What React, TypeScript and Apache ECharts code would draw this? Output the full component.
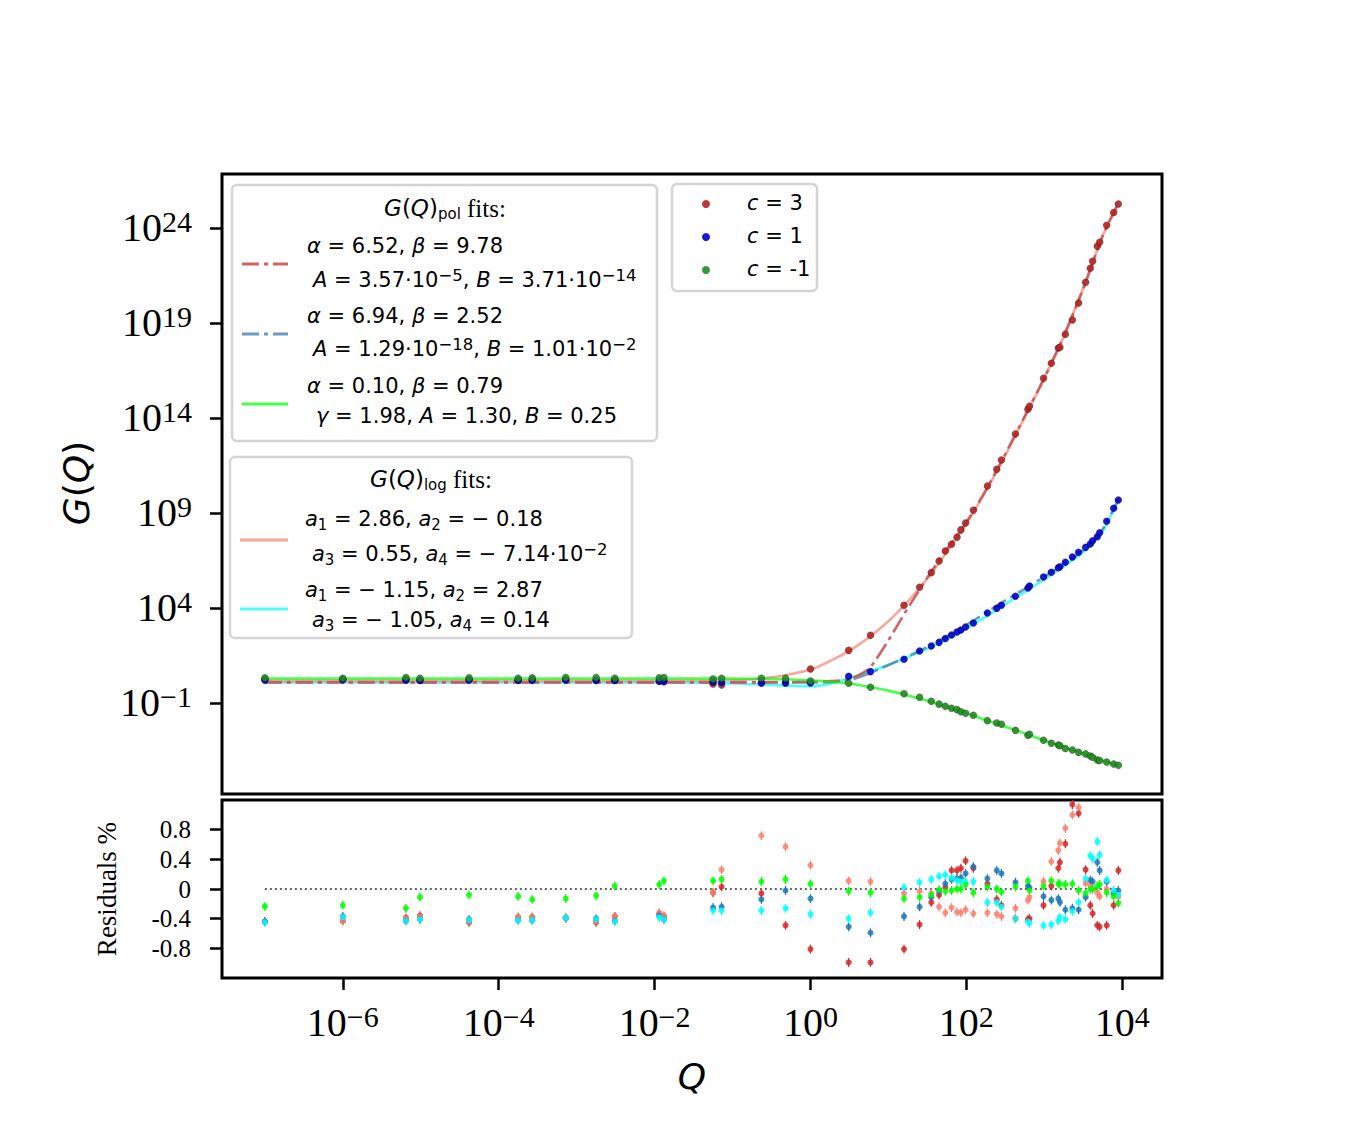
import React, { useEffect, useRef } from 'react';
import * as echarts from 'echarts';

// ---------- data (log10 of Q and of G(Q)) ----------
const LOG_Q = [
  -7.0, -6.0, -5.19, -5.01, -4.38, -3.75, -3.57, -3.14, -2.75, -2.51, -1.94, -1.88,
  -1.25, -1.14, -0.63, -0.32, 0.0, 0.49, 0.77, 1.2, 1.4, 1.55, 1.65, 1.73, 1.81, 1.88,
  1.93, 1.99, 2.09, 2.27, 2.39, 2.45, 2.63, 2.79, 2.81, 2.99, 3.09, 3.18, 3.2, 3.27,
  3.36, 3.44, 3.53, 3.59, 3.62, 3.68, 3.71, 3.8, 3.89, 3.95,
];
const LOG_G_C3 = [
  0.25, 0.24, 0.22, 0.2, 0.24, 0.2, 0.22, 0.24, 0.2, 0.2, 0.14, 0.12,
  0.0, -0.05, 0.08, 0.1, 0.79, 1.77, 2.56, 4.14, 5.09, 5.86, 6.47, 7.0, 7.35, 7.72,
  8.11, 8.47, 9.14, 10.42, 11.3, 11.79, 13.16, 14.46, 14.62, 16.09, 16.88, 17.68, 17.72, 18.41,
  19.16, 20.05, 21.14, 21.88, 22.25, 23.04, 23.25, 24.14, 24.81, 25.26,
];
const LOG_G_C1 = [
  0.2, 0.22, 0.2, 0.18, 0.2, 0.2, 0.18, 0.2, 0.18, 0.18, 0.14, 0.14,
  0.1, 0.08, 0.04, 0.04, 0.05, 0.4, 0.65, 1.3, 1.74, 2.0, 2.19, 2.39, 2.58, 2.74,
  2.84, 3.0, 3.21, 3.74, 3.98, 4.14, 4.62, 5.05, 5.16, 5.63, 5.88, 6.12, 6.17, 6.41,
  6.68, 6.93, 7.19, 7.37, 7.54, 7.75, 7.96, 8.56, 9.25, 9.68,
];
const LOG_G_CM1 = [
  0.32, 0.3, 0.34, 0.3, 0.32, 0.3, 0.32, 0.34, 0.34, 0.3, 0.32, 0.34,
  0.26, 0.3, 0.3, 0.3, 0.16, 0.04, -0.17, -0.51, -0.7, -0.91, -1.06, -1.17, -1.28, -1.35,
  -1.46, -1.54, -1.65, -1.93, -2.05, -2.12, -2.44, -2.7, -2.65, -2.96, -3.12, -3.21, -3.25, -3.4,
  -3.47, -3.6, -3.68, -3.79, -3.86, -4.0, -4.03, -4.11, -4.21, -4.28,
];

// fitted curves, sampled (log10 Q -> log10 G)
const FIT_LOG_Q = [-7, -2, -1, -0.5, 0, 0.25, 0.5, 0.75, 1, 1.25, 1.5, 1.75, 2, 2.25, 2.5, 2.75, 3, 3.25, 3.5, 3.75, 3.95];
const FIT_POL_C3 = [0.1, 0.1, 0.1, 0.1, 0.12, 0.15, 0.25, 0.8, 2.3, 4.0, 5.6, 7.1, 8.5, 10.2, 12.1, 14.1, 16.1, 18.3, 20.8, 23.6, 25.3];
const FIT_LOG_C3 = [0.15, 0.15, 0.2, 0.35, 0.75, 1.2, 1.75, 2.45, 3.3, 4.35, 5.55, 6.95, 8.45, 10.15, 12.05, 14.05, 16.1, 18.3, 20.85, 23.6, 25.3];
const FIT_POL_C1 = [0.08, 0.08, 0.08, 0.08, 0.08, 0.1, 0.2, 0.55, 1.0, 1.45, 1.95, 2.5, 3.1, 3.75, 4.4, 5.0, 5.65, 6.3, 7.05, 8.15, 9.7];
const FIT_LOG_C1 = [0.08, 0.08, 0.04, -0.05, -0.12, 0.02, 0.3, 0.65, 1.0, 1.42, 1.85, 2.35, 2.92, 3.55, 4.2, 4.85, 5.5, 6.2, 6.95, 8.05, 9.7];
const FIT_POL_CM1 = [0.28, 0.28, 0.28, 0.27, 0.2, 0.12, 0.03, -0.15, -0.35, -0.6, -0.88, -1.2, -1.54, -1.9, -2.25, -2.6, -2.97, -3.32, -3.66, -4.02, -4.3];

// residuals in %
const RES_POL_C3 = [
  -0.44, -0.43, -0.39, -0.36, -0.45, -0.38, -0.38, -0.39, -0.45, -0.37, -0.33, -0.37,
  -0.05, 0.03, -0.06, -0.49, -0.81, -0.99, -0.99, -0.81, -0.48, -0.18, -0.08, 0.02, 0.25, 0.25,
  0.28, 0.38, 0.28, 0.07, -0.14, -0.22, -0.4, -0.41, -0.4, -0.22, 0.04, 0.28, 0.36, 0.61,
  1.14, 1.02, 0.26, -0.22, -0.33, -0.49, -0.51, -0.49, -0.22, 0.25,
];
const RES_LOG_C3 = [
  -0.44, -0.43, -0.4, -0.37, -0.44, -0.38, -0.38, -0.39, -0.44, -0.37, -0.32, -0.36,
  -0.05, 0.26, 0.72, 0.57, 0.32, 0.11, 0.1, -0.06, -0.03, -0.06, -0.24, -0.32, -0.25, -0.31,
  -0.32, -0.28, -0.33, -0.32, -0.34, -0.37, -0.26, -0.15, -0.11, 0.1, 0.37, 0.52, 0.62, 0.82,
  1.0, 1.1, 0.08, 0.05, 0.0, -0.05, -0.1, 0.0, -0.05, -0.1,
];
const RES_POL_C1 = [
  -0.44, -0.37, -0.43, -0.41, -0.41, -0.42, -0.42, -0.39, -0.4, -0.43, -0.36, -0.41,
  -0.25, -0.24, -0.14, -0.02, -0.13, -0.51, -0.59, -0.37, -0.24, -0.11, -0.03, 0.07, 0.13, 0.14,
  0.15, 0.21, 0.3, 0.14, 0.25, 0.21, 0.09, 0.04, 0.02, -0.1, -0.15, -0.13, -0.18, -0.28,
  -0.26, -0.28, -0.11, 0.12, 0.1, 0.36, 0.25, 0.1, -0.06, -0.02,
];
const RES_LOG_C1 = [
  -0.45, -0.38, -0.43, -0.41, -0.42, -0.42, -0.42, -0.39, -0.41, -0.44, -0.38, -0.41,
  -0.29, -0.29, -0.29, -0.26, -0.34, -0.4, -0.32, 0.02, 0.09, 0.13, 0.17, 0.19, 0.15, 0.12,
  0.1, 0.1, 0.1, -0.18, -0.18, -0.24, -0.4, -0.44, -0.46, -0.49, -0.48, -0.43, -0.38, -0.41,
  -0.3, -0.18, 0.14, 0.45, 0.41, 0.64, 0.46, 0.12, -0.02, -0.08,
];
const RES_POL_CM1 = [
  -0.235, -0.22, -0.26, -0.11, -0.08, -0.1, -0.14, -0.13, -0.09, 0.04, 0.06, 0.11,
  0.11, 0.13, 0.1, 0.13, 0.07, -0.03, -0.05, -0.13, -0.11, -0.08, -0.01, -0.03, -0.02, 0.0,
  0.0, 0.06, -0.05, 0.03, 0.0, -0.04, 0.03, 0.11, -0.02, 0.04, 0.11, 0.07, 0.07, 0.06,
  0.07, -0.02, -0.06, 0.0, 0.0, 0.04, 0.06, -0.05, -0.1, -0.19,
];

// ticks
const X_TICKS = [-6, -4, -2, 0, 2, 4];
const Y_TICKS = [-1, 4, 9, 14, 19, 24];
const RES_TICKS = [-0.8, -0.4, 0, 0.4, 0.8];
// split over two overlaid axes so that no label is auto-hidden
const RES_TICKS_A = RES_TICKS.filter((_, i) => i % 2 === 0);
const RES_TICKS_B = RES_TICKS.filter((_, i) => i % 2 === 1);

// ---------- styling helpers ----------
const SANS = 'DejaVu Sans';
const SERIF = 'Liberation Serif';
const C_PTS3 = '#b22222';
const C_PTS1 = '#0000cd';
const C_PTSM1 = '#228b22';
const C_POL3 = 'rgba(205,92,92,0.95)';
const C_POL1 = 'rgba(70,130,180,0.8)';
const C_LIME = 'rgba(0,255,0,0.7)';
const C_SALMON = 'rgba(250,128,114,0.7)';
const C_CYAN = 'rgba(0,255,255,0.7)';
const DASHDOT = [17, 5, 4, 5];

const zip = (xs: number[], ys: number[]) => xs.map((x, i) => [x, ys[i]]);
const expText = (n: number) => (n < 0 ? '\u2212' + Math.abs(n) : String(n));

const LF = 21;
const legRich: any = {
  i: { fontFamily: SANS, fontStyle: 'italic', fontSize: LF, lineHeight: 26, fill: '#000' },
  n: { fontFamily: SANS, fontSize: LF, lineHeight: 26, fill: '#000' },
  sup: { fontFamily: SANS, fontSize: 16.5, lineHeight: 16, verticalAlign: 'top', fill: '#000' },
  sub: { fontFamily: SANS, fontSize: 15, lineHeight: 16, verticalAlign: 'bottom', fill: '#000' },
  ti: { fontFamily: SANS, fontStyle: 'italic', fontSize: 23, lineHeight: 26, fill: '#000' },
  tn: { fontFamily: SANS, fontSize: 23, lineHeight: 26, fill: '#000' },
  sr: { fontFamily: SERIF, fontSize: 25, lineHeight: 26, fill: '#000' },
};

function legText(x: number, y: number, text: string, align: string = 'left') {
  return {
    type: 'text',
    x,
    y,
    z: 110,
    silent: true,
    style: {
      text,
      rich: legRich,
      fontFamily: SANS,
      fontSize: LF,
      lineHeight: 26,
      fill: '#000',
      align,
      verticalAlign: 'middle',
    },
  };
}

function handle(x1: number, x2: number, y: number, color: string, dash: any) {
  return {
    type: 'line',
    z: 110,
    silent: true,
    shape: { x1, y1: y, x2, y2: y },
    style: { stroke: color, lineWidth: 3, lineDash: dash },
  };
}

function box(x: number, y: number, w: number, h: number) {
  return {
    type: 'rect',
    z: 105,
    silent: true,
    shape: { x, y, width: w, height: h, r: 5 },
    style: { fill: 'rgba(255,255,255,0.85)', stroke: '#d4d4d4', lineWidth: 2.5 },
  };
}

function dot(x: number, y: number, color: string) {
  return {
    type: 'circle',
    z: 110,
    silent: true,
    shape: { cx: x, cy: y, r: 4 },
    style: { fill: color, opacity: 0.9 },
  };
}

function errBars(data: number[][], color: string, half: number) {
  return {
    type: 'custom',
    xAxisIndex: 1,
    yAxisIndex: 1,
    silent: true,
    z: 3,
    data,
    renderItem: (_p: any, api: any) => {
      const x = api.value(0);
      const y = api.value(1);
      const a = api.coord([x, y - half]);
      const b = api.coord([x, y + half]);
      return {
        type: 'line',
        shape: { x1: a[0], y1: a[1], x2: b[0], y2: b[1] },
        style: { stroke: color, lineWidth: 1.2 },
      };
    },
  };
}

function resScatter(data: number[][], color: string, z: number) {
  return {
    type: 'scatter',
    xAxisIndex: 1,
    yAxisIndex: 1,
    data,
    symbolSize: 6,
    z,
    itemStyle: { color, opacity: 0.85 },
  };
}

function ptScatter(data: number[][], color: string) {
  return {
    type: 'scatter',
    xAxisIndex: 0,
    yAxisIndex: 0,
    data,
    symbolSize: 7,
    z: 5,
    itemStyle: { color, opacity: 0.9, borderColor: 'rgba(0,0,0,0.35)', borderWidth: 0.8 },
  };
}

function fitLine(ys: number[], color: string, type: any, z: number) {
  return {
    type: 'line',
    xAxisIndex: 0,
    yAxisIndex: 0,
    data: zip(FIT_LOG_Q, ys),
    showSymbol: false,
    symbol: 'none',
    smooth: 0.2,
    z,
    lineStyle: { color, width: 2.6, type },
  };
}

const tickStyle = { show: true, length: 12, lineStyle: { color: '#000', width: 2.5 } };

function resAxis(values: number[]) {
  return {
    type: 'value', gridIndex: 1, min: -1.2, max: 1.2, position: 'left', offset: 0,
    axisLine: { show: false, onZero: false },
    axisTick: { ...tickStyle, customValues: values },
    axisLabel: {
      customValues: values,
      margin: 31,
      hideOverlap: false,
      showMinLabel: true,
      showMaxLabel: true,
      fontFamily: SERIF,
      fontSize: 25,
      lineHeight: 24,
      color: '#000',
      formatter: (v: number) => (Math.abs(v) < 1e-9 ? '0' : v.toFixed(1)),
    },
    splitLine: { show: false },
  };
}

export default function App() {
  const ref = useRef<HTMLDivElement>(null);

  useEffect(() => {
    if (!ref.current) return;
    const chart = echarts.init(ref.current, undefined, { renderer: 'svg' });

    const expRich = {
      b: { fontFamily: SERIF, fontSize: 40, lineHeight: 42, color: '#000' },
      s: { fontFamily: SERIF, fontSize: 30, lineHeight: 33, verticalAlign: 'top', color: '#000' },
    };

    const option: any = {
      animation: false,
      backgroundColor: '#fff',
      grid: [
        { left: 222, top: 174, width: 940, height: 620, show: true, borderColor: '#000', borderWidth: 3, backgroundColor: 'transparent', outerBoundsMode: 'none' },
        { left: 222, top: 800, width: 940, height: 178, show: true, borderColor: '#000', borderWidth: 3, backgroundColor: 'transparent', outerBoundsMode: 'none' },
      ],
      xAxis: [
        {
          type: 'value', gridIndex: 0, min: -7.55, max: 4.51,
          axisLine: { show: false, onZero: false }, axisTick: { show: false }, axisLabel: { show: false }, splitLine: { show: false },
        },
        {
          type: 'value', gridIndex: 1, min: -7.55, max: 4.51,
          axisLine: { show: false, onZero: false },
          axisTick: { ...tickStyle, customValues: X_TICKS },
          axisLabel: {
            customValues: X_TICKS,
            margin: 23,
            hideOverlap: false,
            showMinLabel: true,
            showMaxLabel: true,
            formatter: (v: number) => `{b|10}{s|${expText(v)}}`,
            rich: expRich,
          },
          splitLine: { show: false },
        },
      ],
      yAxis: [
        {
          type: 'value', gridIndex: 0, min: -5.79, max: 26.84,
          axisLine: { show: false, onZero: false },
          axisTick: { ...tickStyle, customValues: Y_TICKS },
          axisLabel: {
            customValues: Y_TICKS,
            margin: 30,
            hideOverlap: false,
            showMinLabel: true,
            showMaxLabel: true,
            formatter: (v: number) => `{b|10}{s|${expText(v)}}`,
            rich: expRich,
          },
          splitLine: { show: false },
        },
        resAxis(RES_TICKS_A),
        resAxis(RES_TICKS_B),
      ],
      series: [
        fitLine(FIT_LOG_C1, C_CYAN, 'solid', 2),
        fitLine(FIT_LOG_C3, C_SALMON, 'solid', 2),
        fitLine(FIT_POL_C1, C_POL1, DASHDOT, 3),
        fitLine(FIT_POL_C3, C_POL3, DASHDOT, 3),
        fitLine(FIT_POL_CM1, C_LIME, 'solid', 3),
        ptScatter(zip(LOG_Q, LOG_G_C3), C_PTS3),
        ptScatter(zip(LOG_Q, LOG_G_C1), C_PTS1),
        ptScatter(zip(LOG_Q, LOG_G_CM1), C_PTSM1),
        {
          type: 'line', xAxisIndex: 1, yAxisIndex: 1,
          data: [[LOG_Q[0], 0], [LOG_Q[LOG_Q.length - 1], 0]],
          showSymbol: false, symbol: 'none', z: 2,
          lineStyle: { color: '#333', width: 1.5, type: [2, 3] },
        },
        errBars(zip(LOG_Q, RES_POL_C3), '#d62728', 0.06),
        errBars(zip(LOG_Q, RES_LOG_C3), '#fa8072', 0.06),
        errBars(zip(LOG_Q, RES_POL_C1), '#1f77b4', 0.06),
        errBars(zip(LOG_Q, RES_LOG_C1), '#00ffff', 0.06),
        errBars(zip(LOG_Q, RES_POL_CM1), '#00ff00', 0.06),
        resScatter(zip(LOG_Q, RES_POL_C3), '#d62728', 4),
        resScatter(zip(LOG_Q, RES_LOG_C3), '#fa8072', 4),
        resScatter(zip(LOG_Q, RES_POL_C1), '#1f77b4', 5),
        resScatter(zip(LOG_Q, RES_LOG_C1), '#00ffff', 5),
        resScatter(zip(LOG_Q, RES_POL_CM1), '#00ff00', 6),
      ],
      graphic: [
        // axis titles
        {
          type: 'text', x: 76, y: 483, rotation: Math.PI / 2, z: 110, silent: true,
          style: {
            text: '{i|G}{n|(}{i|Q}{n|)}',
            rich: {
              i: { fontFamily: SANS, fontStyle: 'italic', fontSize: 36, fill: '#000' },
              n: { fontFamily: SANS, fontSize: 36, fill: '#000' },
            },
            fontSize: 36, align: 'center', verticalAlign: 'middle', fill: '#000',
          },
        },
        {
          type: 'text', x: 107, y: 889, rotation: Math.PI / 2, z: 110, silent: true,
          style: { text: 'Residuals %', fontFamily: SERIF, fontSize: 27, fill: '#000', align: 'center', verticalAlign: 'middle' },
        },
        {
          type: 'text', x: 692, y: 1076, z: 110, silent: true,
          style: { text: 'Q', fontFamily: SANS, fontStyle: 'italic', fontSize: 36, fill: '#000', align: 'center', verticalAlign: 'middle' },
        },
        // legend 1: polynomial fits
        box(232, 185, 425, 256),
        legText(445, 208, '{ti|G}{tn|(}{ti|Q}{tn|)}{sub|pol}{sr| fits:}', 'center'),
        handle(242, 288, 264, C_POL3, DASHDOT),
        legText(307, 246, '{i|α} = 6.52, {i|β} = 9.78'),
        legText(313, 280, '{i|A} = 3.57·10{sup|−5}, {i|B} = 3.71·10{sup|−14}'),
        handle(242, 288, 334, C_POL1, DASHDOT),
        legText(307, 316, '{i|α} = 6.94, {i|β} = 2.52'),
        legText(313, 349, '{i|A} = 1.29·10{sup|−18}, {i|B} = 1.01·10{sup|−2}'),
        handle(242, 288, 404, 'rgba(0,255,0,0.72)', null),
        legText(307, 386, '{i|α} = 0.10, {i|β} = 0.79'),
        legText(316, 416, '{i|γ} = 1.98, {i|A} = 1.30, {i|B} = 0.25'),
        // legend 2: log fits
        box(230, 457, 402, 181),
        legText(431, 479, '{ti|G}{tn|(}{ti|Q}{tn|)}{sub|log}{sr| fits:}', 'center'),
        handle(240, 288, 540, C_SALMON, null),
        legText(305, 519, '{i|a}{sub|1} = 2.86, {i|a}{sub|2} = − 0.18'),
        legText(312, 554, '{i|a}{sub|3} = 0.55, {i|a}{sub|4} = − 7.14·10{sup|−2}'),
        handle(240, 288, 609, C_CYAN, null),
        legText(305, 590, '{i|a}{sub|1} = − 1.15, {i|a}{sub|2} = 2.87'),
        legText(312, 620, '{i|a}{sub|3} = − 1.05, {i|a}{sub|4} = 0.14'),
        // legend 3: data sets
        box(672, 184, 145, 107),
        dot(706, 204, C_PTS3),
        legText(747, 203, '{i|c} = 3'),
        dot(706, 237, C_PTS1),
        legText(747, 236, '{i|c} = 1'),
        dot(706, 270, C_PTSM1),
        legText(747, 269, '{i|c} = -1'),
      ],
    };

    chart.setOption(option);
    return () => {
      chart.dispose();
    };
  }, []);

  return (
    <div
      ref={ref}
      style={{ position: 'absolute', left: 0, top: 0, width: 1350, height: 1140, background: '#fff' }}
    />
  );
}
